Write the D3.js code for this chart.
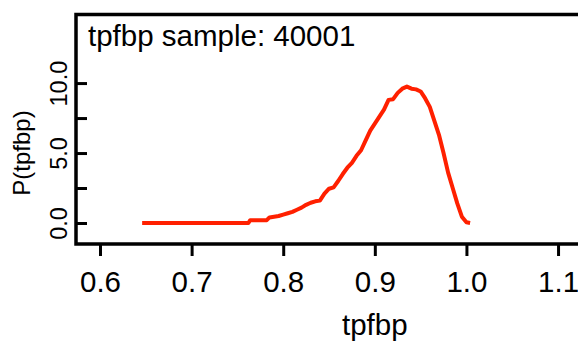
<!DOCTYPE html>
<html>
<head>
<meta charset="utf-8">
<script src="https://cdn.jsdelivr.net/npm/d3@7"></script>
<style>
  html, body { margin: 0; padding: 0; background: #fff; }
  svg { display: block; }
  text { font-family: "Liberation Sans", Arial, Helvetica, sans-serif; fill: #000; }
</style>
</head>
<body>
<svg id="chart" width="578" height="343"></svg>
<script>
// ---- data ----
const xTicks = [0.6, 0.7, 0.8, 0.9, 1.0, 1.1];
const xTickLabels = ["0.6", "0.7", "0.8", "0.9", "1.0", "1.1"];
const yTicks = [0, 2.5, 5, 7.5, 10];
const yTickLabels = ["0.0", "", "5.0", "", "10.0"];
const sampleX = [0.646, 0.762, 0.764, 0.782, 0.785, 0.790, 0.795, 0.800, 0.805, 0.810, 0.815, 0.820,
  0.825, 0.830, 0.835, 0.840, 0.845, 0.850, 0.855, 0.860, 0.865, 0.870,
  0.875, 0.880, 0.885, 0.890, 0.895, 0.900, 0.905, 0.910, 0.915, 0.920,
  0.925, 0.930, 0.935, 0.940, 0.945, 0.950, 0.955, 0.960, 0.965, 0.970,
  0.975, 0.980, 0.985, 0.990, 0.995, 1.000, 1.004];
const density = [0.0, 0.0, 0.2, 0.2, 0.4, 0.45, 0.5, 0.6, 0.7, 0.8, 0.95, 1.1,
  1.3, 1.45, 1.55, 1.6, 2.1, 2.45, 2.55, 3.0, 3.5, 3.95,
  4.3, 4.8, 5.2, 5.9, 6.6, 7.1, 7.6, 8.1, 8.8, 8.85,
  9.3, 9.6, 9.75, 9.6, 9.55, 9.4, 8.9, 8.3, 7.3, 6.3,
  5.0, 3.6, 2.5, 1.4, 0.45, 0.05, 0.0];
const titleText = "tpfbp sample: 40001";
const xLabel = "tpfbp";
const yLabel = "P(tpfbp)";

// ---- layout ----
const mLeft = 76, mRight = 600, mTop = 14.5, mBottom = 244;
const svg = d3.select("#chart");

const x = d3.scaleLinear().domain([0.5738, 1.1458]).range([mLeft, mRight]);
const y = d3.scaleLinear().domain([-1.5, 14.9]).range([mBottom, mTop]);

// curve
const pts = sampleX.map((b, i) => [b, density[i]]);
const line = d3.line().x(d => x(d[0])).y(d => y(d[1])).curve(d3.curveLinear);
svg.append("path")
  .datum(pts)
  .attr("d", line)
  .attr("fill", "none")
  .attr("stroke", "#ff2000")
  .attr("stroke-width", 4)
  .attr("stroke-linejoin", "round");

// box
svg.append("rect")
  .attr("x", mLeft).attr("y", mTop)
  .attr("width", mRight - mLeft).attr("height", mBottom - mTop)
  .attr("fill", "none").attr("stroke", "#000").attr("stroke-width", 3.5);

// x axis
const xAxis = d3.axisBottom(x)
  .tickValues(xTicks)
  .tickFormat((d, i) => xTickLabels[i])
  .tickSizeInner(12).tickSizeOuter(0).tickPadding(15);
const gx = svg.append("g").attr("transform", `translate(0,${mBottom})`).call(xAxis);
gx.select(".domain").remove();
gx.selectAll(".tick line").attr("stroke", "#000").attr("stroke-width", 3);
gx.selectAll(".tick text")
  .attr("font-size", 29.5)
  .attr("font-family", "Liberation Sans, Arial, sans-serif")
  .attr("dy", "0.71em");

// y axis (ticks point inward, labels rotated)
const yAxis = d3.axisLeft(y)
  .tickValues(yTicks)
  .tickFormat((d, i) => yTickLabels[i])
  .tickSizeInner(-11).tickSizeOuter(0).tickPadding(9);
const gy = svg.append("g").attr("transform", `translate(${mLeft},0)`).call(yAxis);
gy.select(".domain").remove();
gy.selectAll(".tick line").attr("stroke", "#000").attr("stroke-width", 3);
gy.selectAll(".tick text")
  .attr("font-size", 23.5)
  .attr("font-family", "Liberation Sans, Arial, sans-serif")
  .attr("x", null).attr("dy", null)
  .attr("text-anchor", "middle")
  .attr("transform", "translate(-9,0) rotate(-90)");

// title inside plot
svg.append("text")
  .attr("x", 88).attr("y", 46)
  .attr("font-size", 29.5)
  .text(titleText);

// axis titles
svg.append("text")
  .attr("x", x(0.9)).attr("y", 335)
  .attr("text-anchor", "middle")
  .attr("font-size", 29.5)
  .text(xLabel);

svg.append("text")
  .attr("transform", `translate(30,${y(5)}) rotate(-90)`)
  .attr("text-anchor", "middle")
  .attr("font-size", 24)
  .text(yLabel);
</script>
</body>
</html>
